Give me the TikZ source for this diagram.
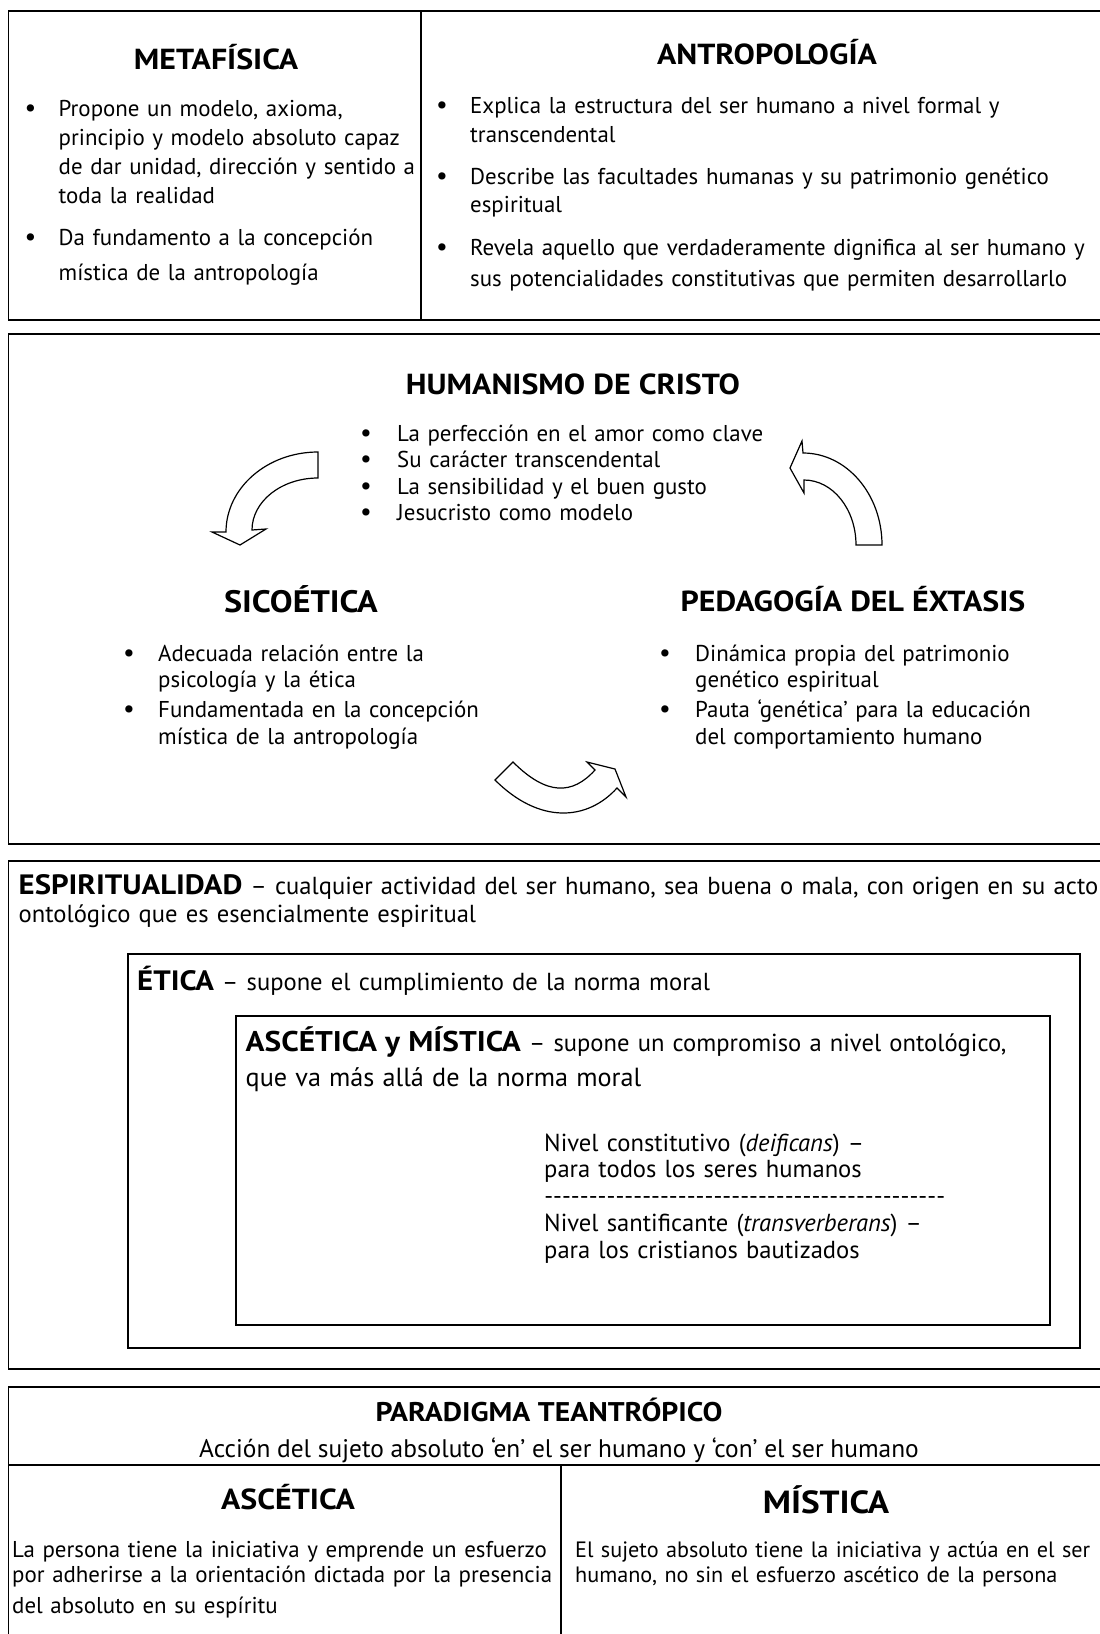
\documentclass[tikz,border=0pt]{standalone}
\usepackage{fontspec}
\setmainfont{PT Sans}
\newfontfamily\hfont{PT Sans}[FakeStretch=1.1]
\newcommand\bdot{{\fontsize{26}{26}\selectfont •}}
\newcommand\bitem{\makebox[34pt][l]{\bdot}}
\newcommand\bcont{\hspace*{34pt}}
\newcommand\hb[1]{{\hfont\bfseries\fontsize{28}{31}\selectfont #1}}
\tikzset{
  frame/.style={draw=black, line width=1.6pt},
  innerbox/.style={draw=black, line width=1.4pt},
  curvearrow/.style={draw=black, line width=1.2pt, fill=white, line join=miter},
  headtxt/.style={font=\hfont\bfseries\fontsize{29}{31}\selectfont, inner sep=0pt, anchor=base},
  bodytxt/.style={font=\fontsize{22.9}{29}\selectfont, inner sep=0pt, anchor=base west, text width=700pt, align=left},
  bigtxt/.style={font=\fontsize{24.6}{30}\selectfont, inner sep=0pt, anchor=base west, text width=1200pt, align=left},
  linetxt/.style={font=\fontsize{25.4}{29}\selectfont, inner sep=0pt, anchor=base},
}
\begin{document}
\begin{tikzpicture}[x=1pt,y=-1pt]
\useasboundingbox (0,0) rectangle (1100,1634);
\clip (0,0) rectangle (1100,1634);
\fill[white] (0,0) rectangle (1100,1634);

% ---------- box 1 ----------
\draw[frame] (1120,11) -- (8.5,11) -- (8.5,320) -- (1120,320);
\draw[frame] (421,11) -- (421,320);
\node[headtxt] (metah) at (216,69) {METAFÍSICA};
\node[headtxt] (antroh) at (767,64) {ANTROPOLOGÍA};
\node[bodytxt] (metal) at (24.5,116) {\bitem Propone un modelo, axioma,\\
\bcont principio y modelo absoluto capaz\\
\bcont de dar unidad, dirección y sentido a\\
\bcont toda la realidad\\[13pt]
\bitem Da fundamento a la concepción\\[6pt]
\bcont mística de la antropología};
\node[bodytxt] (antrol) at (436,113) {\bitem Explica la estructura del ser humano a nivel formal y\\
\bcont transcendental\\[13pt]
\bitem Describe las facultades humanas y su patrimonio genético\\[-1pt]
\bcont espiritual\\[14pt]
\bitem Revela aquello que verdaderamente dignifica al ser humano y\\[2pt]
\bcont sus potencialidades constitutivas que permiten desarrollarlo};

% ---------- box 2 ----------
\draw[frame] (1120,334) -- (8.5,334) -- (8.5,844) -- (1120,844);
\node[headtxt] (humh) at (573,394) {HUMANISMO DE CRISTO};
\node[bodytxt, font=\fontsize{22.9}{26.5}\selectfont] (huml) at (360,441) {\makebox[37pt][l]{\bdot}La perfección en el amor como clave\\
\makebox[37pt][l]{\bdot}Su carácter transcendental\\
\makebox[37pt][l]{\bdot}La sensibilidad y el buen gusto\\
\makebox[37pt][l]{\bdot}Jesucristo como modelo};
\node[headtxt, font=\hfont\bfseries\fontsize{31}{35}\selectfont] (sicoh) at (301,612) {SICOÉTICA};
\node[bodytxt, font=\fontsize{22.9}{26.5}\selectfont] (sicol) at (123,661) {\makebox[35pt][l]{\bdot}Adecuada relación entre la\\
\hspace*{35pt}psicología y la ética\\[3.5pt]
\makebox[35pt][l]{\bdot}Fundamentada en la concepción\\
\hspace*{35pt}mística de la antropología};
\node[headtxt] (pedh) at (853,611) {PEDAGOGÍA DEL ÉXTASIS};
\node[bodytxt, font=\fontsize{22.9}{26.5}\selectfont] (pedl) at (659,661) {\makebox[36pt][l]{\bdot}Dinámica propia del patrimonio\\
\hspace*{36pt}genético espiritual\\[3.5pt]
\makebox[36pt][l]{\bdot}Pauta ‘genética’ para la educación\\
\hspace*{36pt}del comportamiento humano};

% curved block arrows
\draw[curvearrow] (318,452) .. controls (267.2,452) and (226,487.8) .. (226,532)
  -- (212,532) -- (240,545) -- (266,529) -- (252,530)
  .. controls (252,501.3) and (281.5,478) .. (318,478) -- cycle;
\draw[curvearrow] (856,545) -- (882,545) .. controls (882,494.2) and (846.6,453) .. (803,453)
  -- (802,441) -- (790,468) -- (804,493) -- (804,480)
  .. controls (832.7,480) and (856,509.1) .. (856,545) -- cycle;
\draw[curvearrow] (513,762) .. controls (546.7,795.7) and (572.4,795) .. (595,770)
  -- (587,762) -- (615,769) -- (626,797) -- (617,788)
  .. controls (587.3,820.9) and (539.4,824.4) .. (495,780) -- cycle;

% ---------- box 3 ----------
\draw[frame] (1120,861) -- (8.5,861) -- (8.5,1369) -- (1120,1369);
\draw[innerbox] (1080,954) -- (128,954) -- (128,1348) -- (1080,1348) -- cycle;
\draw[innerbox] (236,1016) rectangle (1050,1325);
\node[bigtxt] (espl) at (18.5,894) {\hb{ESPIRITUALIDAD} – cualquier actividad del ser humano, sea buena o mala, con origen en su acto\\[-2pt]
ontológico que es esencialmente espiritual};
\node[bigtxt] (etil) at (137,990) {\hb{ÉTICA} – supone el cumplimiento de la norma moral};
\node[bigtxt] (ascl) at (245.5,1051) {{\hfont\bfseries\fontsize{28.5}{31}\selectfont ASCÉTICA y MÍSTICA} – supone un compromiso a nivel ontológico,\\[5pt]
{\fontsize{26.2}{30}\selectfont que va más allá de la norma moral}};
\node[bigtxt, font=\fontsize{24.6}{26.8}\selectfont] (nivl) at (544,1151) {Nivel constitutivo (\textit{deificans}) –\\
para todos los seres humanos\\
\leavevmode\hbox to 401pt{\xleaders\hbox{-}\hfill}\\
Nivel santificante (\textit{transverberans}) –\\
para los cristianos bautizados};

% ---------- box 4 ----------
\draw[frame] (1120,1387) -- (8.5,1387) -- (8.5,1650);
\draw[frame] (8.5,1465) -- (1120,1465);
\draw[frame] (561,1465) -- (561,1650);
\node[headtxt, font=\hfont\bfseries\fontsize{27}{31}\selectfont] (parh) at (549,1421) {PARADIGMA TEANTRÓPICO};
\node[linetxt] (parl) at (559,1457) {Acción del sujeto absoluto ‘en’ el ser humano y ‘con’ el ser humano};
\node[headtxt] (asch) at (288,1509) {ASCÉTICA};
\node[headtxt, font=\hfont\bfseries\fontsize{32}{35}\selectfont] (mish) at (826,1513) {MÍSTICA};
\node[bodytxt, font=\fontsize{22.9}{25}\selectfont] (ascp) at (12,1557) {La persona tiene la iniciativa y emprende un esfuerzo\\
por adherirse a la orientación dictada por la presencia\\[6pt]
del absoluto en su espíritu};
\node[bodytxt, font=\fontsize{22.2}{25}\selectfont] (misp) at (575,1557) {El sujeto absoluto tiene la iniciativa y actúa en el ser\\
humano, no sin el esfuerzo ascético de la persona};
\end{tikzpicture}
\end{document}
